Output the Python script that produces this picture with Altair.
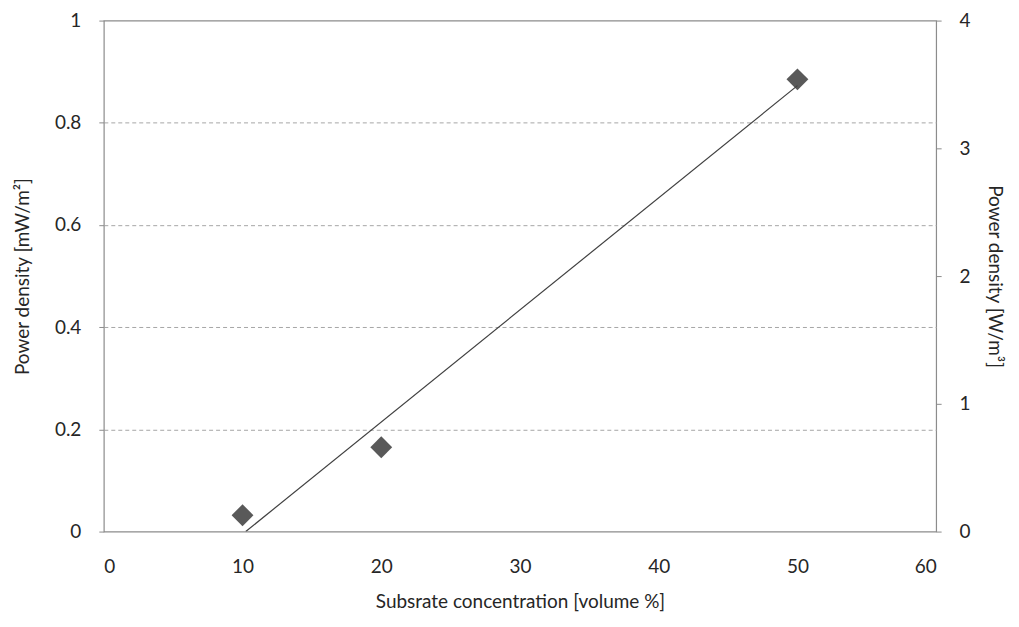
import altair as alt
import pandas as pd

conc = [10, 20, 50]
power = [0.032, 0.165, 0.885]

df = pd.DataFrame({"conc": conc, "power": power})

FONT = "Lato"
TXT = "#262626"
FS = 19

xscale = alt.Scale(domain=[0, 60])
yscale = alt.Scale(domain=[0, 1])

xaxis = alt.Axis(values=[0, 10, 20, 30, 40, 50, 60], ticks=False, domain=False, grid=False,
                 labelFontSize=FS, labelFont=FONT, labelColor=TXT, labelPadding=26,
                 title="Subsrate concentration [volume %]", titleFontSize=FS, titleFont=FONT,
                 titleFontWeight="normal", titleColor=TXT, titlePadding=16)

yaxis = alt.Axis(values=[0, 0.2, 0.4, 0.6, 0.8, 1], format="~g", tickSize=5, tickColor="#8c8c8c",
                 domain=False, grid=True, gridDash=[4, 3], gridColor="#a6a6a6",
                 gridOpacity=alt.condition("datum.value > 0 && datum.value < 1", alt.value(1), alt.value(0)),
                 labelFontSize=FS, labelFont=FONT, labelColor=TXT, labelPadding=18,
                 title="Power density [mW/m²]", titleFontSize=FS, titleFont=FONT,
                 titleFontWeight="normal", titleColor=TXT, titlePadding=22)

points = alt.Chart(df).mark_point(shape="diamond", filled=True, size=480, color="#595959", opacity=1).encode(
    x=alt.X("conc:Q", scale=xscale, axis=xaxis),
    y=alt.Y("power:Q", scale=yscale, axis=yaxis),
)

trend = alt.Chart(df).transform_regression(
    "conc", "power", extent=[10.23, 50]
).mark_line(color="#404040", strokeWidth=1.2, clip=True).encode(
    x=alt.X("conc:Q", scale=xscale),
    y=alt.Y("power:Q", scale=yscale),
)

left = alt.layer(points, trend)

right = alt.Chart(df).mark_point(opacity=0).encode(
    y=alt.Y("right:Q", scale=alt.Scale(domain=[0, 4]),
            axis=alt.Axis(orient="right", values=[0, 1, 2, 3, 4], tickSize=5, tickColor="#8c8c8c",
                          domain=False, grid=False,
                          labelFontSize=FS, labelFont=FONT, labelColor=TXT, labelPadding=18,
                          title="Power density [W/m³]", titleFontSize=FS, titleFont=FONT,
                          titleFontWeight="normal", titleColor=TXT, titlePadding=14)),
).transform_calculate(right="datum.power * 4")

chart = alt.layer(left, right).resolve_scale(y="independent").properties(
    width=834, height=512,
    autosize=alt.AutoSizeParams(type="none"),
    padding={"left": 96, "top": 12, "right": 75, "bottom": 90},
).configure_view(stroke="#8c8c8c", strokeWidth=1.2)

chart.save("out.html", embed_options={"renderer": "svg", "actions": False})
